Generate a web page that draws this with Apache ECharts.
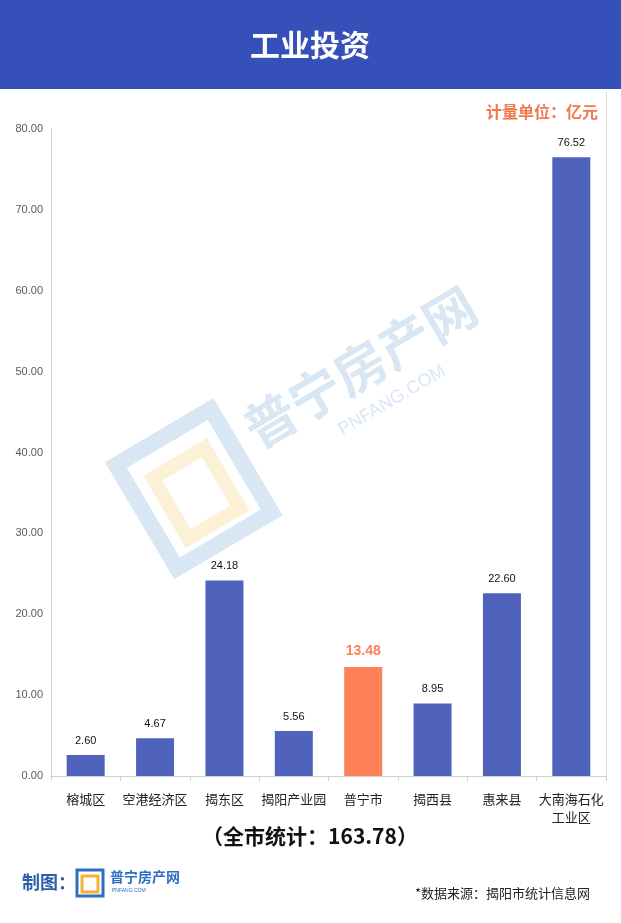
<!DOCTYPE html>
<html><head><meta charset="utf-8">
<script src="https://cdn.jsdelivr.net/npm/echarts@6/dist/echarts.min.js"></script>
<style>html,body{margin:0;padding:0;background:#fff}#c{width:621px;height:923px}</style>
</head><body><div id="c"></div>
<script>
const categories = ['榕城区','空港经济区','揭东区','揭阳产业园','普宁市','揭西县','惠来县','大南海石化\n工业区'];
const values = [2.60, 4.67, 24.18, 5.56, 13.48, 8.95, 22.60, 76.52];
const highlightIndex = 4;
const yTicks = {min:0, max:80, interval:10};
const title = '工业投资';
const unitText = '计量单位：亿元';
const totalText = '（全市统计：163.78）';
const sourceText = '*数据来源：揭阳市统计信息网';

const FONT = '"Noto Sans CJK SC","Noto Sans",sans-serif';
const chart = echarts.init(document.getElementById('c'));
chart.setOption({
  backgroundColor:'#fff',
  animation:false,
  grid:{left:51, right:15, top:129, bottom:147},
  xAxis:{type:'category', data:categories,
    axisLine:{lineStyle:{color:'#d0d0d0'}},
    axisTick:{show:true, lineStyle:{color:'#d0d0d0'}, length:5},
    axisLabel:{color:'#222', fontSize:13, fontFamily:FONT, interval:0, margin:14, lineHeight:18}},
  yAxis:{type:'value', min:yTicks.min, max:yTicks.max, interval:yTicks.interval,
    axisLine:{show:true, lineStyle:{color:'#d0d0d0'}},
    axisTick:{show:false}, splitLine:{show:false},
    axisLabel:{color:'#595959', fontSize:11, fontFamily:'Liberation Sans, Arial, sans-serif', margin:8,
      formatter:v=>v.toFixed(2)}},
  series:[{type:'bar', barWidth:38,
    data: values.map((v,i)=>({value:v,
      itemStyle:{color: i===highlightIndex ? '#FF8157' : '#4F63BC'},
      label: i===highlightIndex ? {color:'#FF8157', fontSize:14, fontWeight:'bold'} : {}})),
    label:{show:true, position:'top', distance:9, color:'#111', fontSize:11,
      fontFamily:'Liberation Sans, Arial, sans-serif', formatter:p=>p.value.toFixed(2)}}],
  graphic:[
    {type:'rect', shape:{x:0,y:0,width:621,height:89}, style:{fill:'#3550B8'}, z:-1},
    {type:'text', x:310, y:45, style:{text:title, fill:'#fff', font:'bold 30px '+FONT, textAlign:'center', textVerticalAlign:'middle'}},
    {type:'text', x:598, y:112, style:{text:unitText, fill:'#F0784F', font:'bold 16px '+FONT, textAlign:'right', textVerticalAlign:'middle'}},
    {type:'line', shape:{x1:606.5,y1:92,x2:606.5,y2:776}, style:{stroke:'#d8d8d8', lineWidth:1}},
    {type:'text', x:310, y:836, style:{text:totalText, fill:'#111', font:'bold 21px '+FONT, textAlign:'center', textVerticalAlign:'middle'}},
    {type:'text', x:22, y:882, style:{text:'制图：', fill:'#2D5FA8', font:'bold 18px '+FONT, textVerticalAlign:'middle'}},
    {type:'rect', shape:{x:77,y:870,width:26,height:26}, style:{fill:'none', stroke:'#2D6FC0', lineWidth:3}},
    {type:'rect', shape:{x:82,y:876,width:16,height:16}, style:{fill:'none', stroke:'#F5B335', lineWidth:3}},
    {type:'text', x:110, y:877, style:{text:'普宁房产网', fill:'#2D6FC0', font:'bold 14px '+FONT, textVerticalAlign:'middle'}},
    {type:'text', x:112, y:891, style:{text:'PNFANG.COM', fill:'#2D6FC0', font:'5px sans-serif', textVerticalAlign:'middle'}},
    {type:'text', x:590, y:893, style:{text:sourceText, fill:'#222', font:'13px '+FONT, textAlign:'right', textVerticalAlign:'middle'}},
    {type:'group', x:310, y:420, rotation:Math.PI*0.17, z:10, children:[
      {type:'text', x:-60, y:-20, style:{text:'普宁房产网', fill:'rgba(120,170,220,0.28)', font:'bold 52px '+FONT, textAlign:'left', textVerticalAlign:'middle'}},
      {type:'text', x:20, y:25, style:{text:'PNFANG.COM', fill:'rgba(120,170,220,0.28)', font:'18px sans-serif', textAlign:'left', textVerticalAlign:'middle'}},
      {type:'rect', shape:{x:-190,y:-60,width:110,height:120}, style:{fill:'none', stroke:'rgba(120,170,220,0.28)', lineWidth:16}},
      {type:'rect', shape:{x:-165,y:-30,width:60,height:70}, style:{fill:'none', stroke:'rgba(245,210,120,0.3)', lineWidth:14}}
    ]}
  ]
});
</script></body></html>
